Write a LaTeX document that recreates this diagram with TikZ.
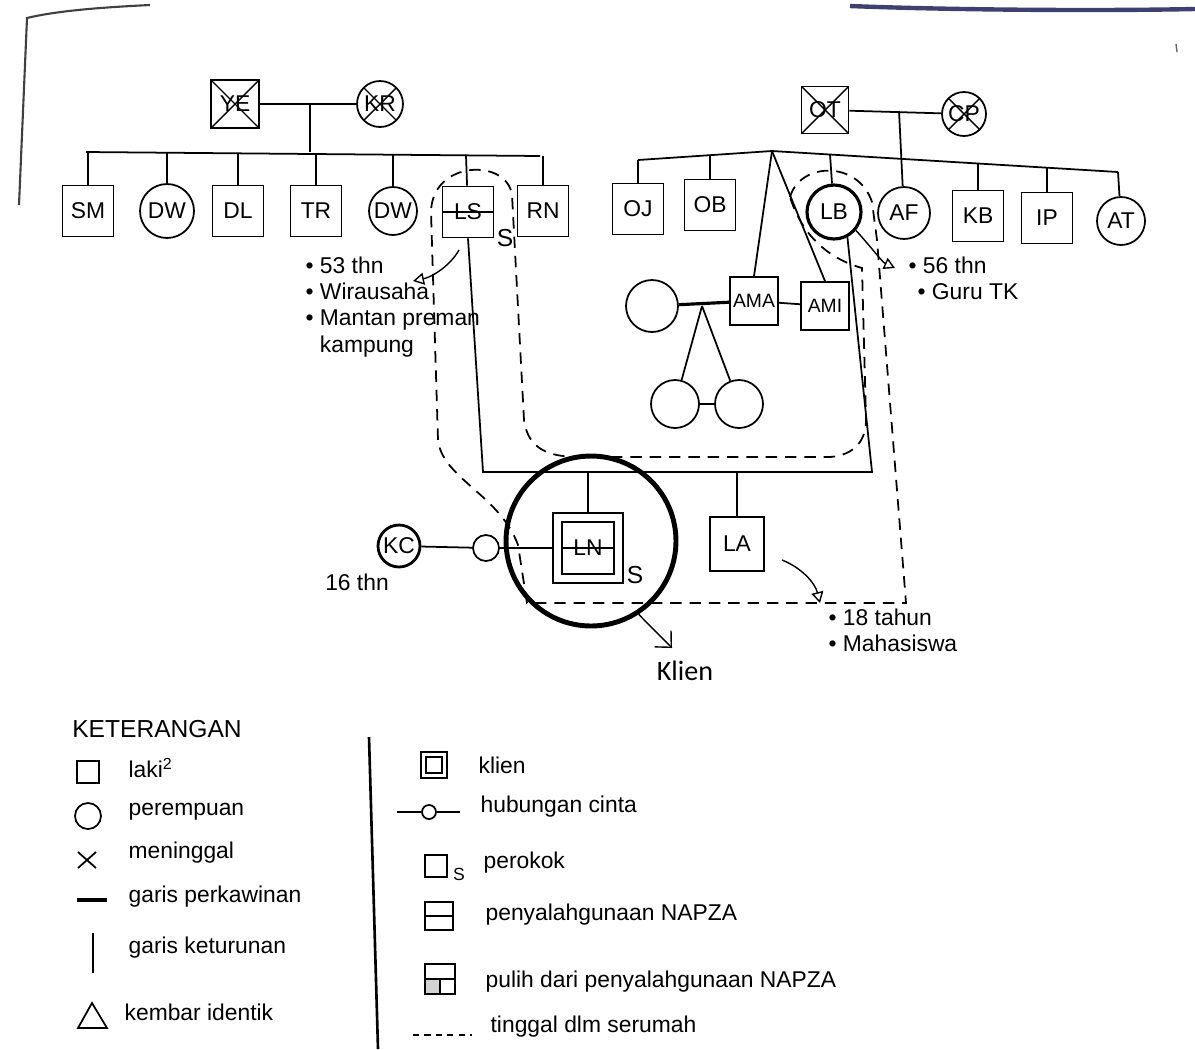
\documentclass[tikz,border=0pt]{standalone}
\usepackage{fontspec}
\setmainfont{Liberation Sans}
\newfontfamily\klienfont{Carlito}
\usetikzlibrary{arrows.meta, positioning}
\definecolor{scanbiru}{RGB}{62,64,112}

\begin{document}
\begin{tikzpicture}[x=0.02cm, y=-0.02cm, line width=1pt,
    every node/.style={font=\fontsize{13}{15}\selectfont},
    pria/.style={draw, rectangle, minimum size=1.02cm, inner sep=0pt},
    wanita/.style={draw, circle, minimum size=1.04cm, inner sep=0pt},
    meninggal/.style={path picture={\draw[line width=0.8pt]
        (path picture bounding box.north west) -- (path picture bounding box.south east)
        (path picture bounding box.north east) -- (path picture bounding box.south west);}},
    napza/.style={path picture={\draw[line width=0.8pt]
        (path picture bounding box.west) -- (path picture bounding box.east);}},
    ganda/.style={path picture={\draw[line width=0.8pt]
        ([shift={(#1,#1)}]path picture bounding box.south west) rectangle
        ([shift={(-#1,-#1)}]path picture bounding box.north east);}},
    pulih/.style={path picture={
        \fill[gray!35] (path picture bounding box.west) rectangle (path picture bounding box.south);
        \draw[line width=0.8pt] (path picture bounding box.west) -- (path picture bounding box.east);
        \draw[line width=0.8pt] (path picture bounding box.center) -- (path picture bounding box.south);}},
    serumah/.style={dash pattern=on 6.5pt off 4.5pt, line width=1pt},
    teks/.style={inner sep=1pt, align=left, font=\fontsize{13}{15}\selectfont},
    panah/.style={-{Triangle[open, length=2.2mm, width=2.4mm]}, line width=0.8pt},
  ]
  \useasboundingbox (0,0) rectangle (1195,1049);

  % bekas pindaian di tepi kertas
  \draw[line width=1.2pt, black!75] (19,205) -- (27,18) .. controls (60,10) and (110,7) .. (150,5);
  \draw[line width=2.5pt, scanbiru] (850,6) .. controls (950,10) and (1100,11) .. (1195,9);
  \draw[line width=0.8pt, black!60] (1176,44) -- (1177,52);

  % kakek-nenek dari ayah
  \node[pria, meninggal, minimum size=0.96cm] (ye) at (235,104) {YE};
  \node[wanita, meninggal, minimum size=0.92cm] (kr) at (380,104) {KR};
  \draw (ye) -- (kr);
  \coordinate (ykmid) at (310,104);
  \coordinate (bar1L) at (86,152);
  \coordinate (bar1R) at (540,156);
  \draw (ykmid) -- (ykmid |- bar1L);
  \draw (bar1L) -- (bar1R);
  \foreach \nm/\lbl/\xx/\yb in {sm/SM/88/152, dl/DL/238/153.3, tr/TR/316/154, rn/RN/543/156}{
    \node[pria] (\nm) at (\xx,211) {\lbl};
    \coordinate (\nm up) at (\xx,\yb);
    \draw (\nm) -- (\nm up);
  }
  \foreach \nm/\xx/\yb/\sz in {dwa/167/152.7/1.08, dwb/393/154.7/0.96}{
    \node[wanita, minimum size=\sz cm] (\nm) at (\xx,211) {DW};
    \coordinate (\nm up) at (\xx,\yb);
    \draw (\nm) -- (\nm up);
  }
  \node[pria, napza] (ls) at (468,212) {LS};
  \coordinate (ls up) at (466,155.4);
  \draw (ls) -- (ls up);
  \node[font=\fontsize{14}{16}\selectfont, inner sep=0pt] (lss) at (505,238) {S};

  % kakek-nenek dari ibu
  \node[pria, meninggal, minimum size=0.94cm] (ot) at (825,110) {OT};
  \node[wanita, meninggal, minimum size=0.88cm] (cp) at (964,114) {CP};
  \draw (ot) -- (cp);
  \coordinate (otcp) at (899,111);
  \coordinate (bar2L) at (638,160);
  \coordinate (apex) at (772,151);
  \coordinate (bar2R) at (1118,172);
  \draw (bar2L) -- (apex) -- (bar2R);
  \foreach \nm/\lbl/\xx/\yy/\yb in {oj/OJ/638/209/160, ob/OB/710/205/155.2, kb/KB/978/216/163.6, ip/IP/1047/218/167.8}{
    \node[pria] (\nm) at (\xx,\yy) {\lbl};
    \coordinate (\nm up) at (\xx,\yb);
    \draw (\nm) -- (\nm up);
  }
  \node[wanita, line width=1.8pt, minimum size=1.08cm] (lb) at (834,212) {LB};
  \coordinate (lb up) at (830,154.5);
  \draw (lb) -- (lb up);
  \node[wanita] (af) at (904,213) {AF};
  \draw (otcp) -- (af);
  \node[wanita, minimum size=0.96cm] (atk) at (1121,221) {AT};
  \coordinate (atk up) at (1118,172);
  \draw (atk) -- (atk up);

  % keluarga AMA
  \node[pria, minimum size=0.96cm, font=\fontsize{11}{13}\selectfont] (ama) at (754,301) {AMA};
  \node[pria, minimum size=0.96cm, font=\fontsize{11}{13}\selectfont] (ami) at (825,306) {AMI};
  \draw (apex) -- (ama.north);
  \draw (apex) -- (ami.north);
  \node[wanita] (istri) at (652,306) {};
  \draw[line width=1.8pt] (istri) -- (ama);
  \draw (ama) -- (ami);
  \coordinate (kembar) at (702,306);
  \node[wanita, minimum size=0.96cm] (tw1) at (675,404) {};
  \node[wanita, minimum size=0.96cm] (tw2) at (739,404) {};
  \draw (kembar) -- (tw1);
  \draw (kembar) -- (tw2);
  \draw (tw1) -- (tw2);

  % keluarga LS dan LB
  \coordinate (lsbawah) at (483,472);
  \coordinate (lbbawah) at (872,472);
  \draw (ls.south) -- (lsbawah) -- (lbbawah) -- (lb.-62);
  \node[pria, minimum size=1.4cm, ganda=0.18cm] (ln) at (588,548) {LN};
  \draw[line width=0.8pt] ([xshift=0.18cm]ln.west) -- ([xshift=-0.18cm]ln.east);
  \node[font=\fontsize{14}{16}\selectfont, inner sep=0pt] (lns) at (635,575) {S};
  \draw (ln.north) -- (ln.north |- lsbawah);
  \node[pria, minimum size=1.08cm] (la) at (737,544) {LA};
  \draw (la.north) -- (la.north |- lsbawah);
  \node[wanita, line width=1.6pt, minimum size=0.84cm] (kc) at (399,546) {KC};
  \node[wanita, minimum size=0.52cm] (pacar) at (486,548) {};
  \draw (kc) -- (pacar) -- (ln);

  % tinggal serumah
  \draw[serumah] (790,197) .. controls (800,162) and (858,160) .. (872,202)
    -- (877,240) -- (906,603) -- (527,603) -- (518,545)
    .. controls (500,495) and (442,478) .. (438,440) -- (431,212)
    .. controls (432,160) and (507,158) .. (512,195) -- (524,420)
    .. controls (528,450) and (550,457) .. (580,457) -- (830,457)
    .. controls (855,455) and (866,440) .. (866,420) -- (862,268)
    .. controls (840,262) and (805,245) .. (790,197);

  % keterangan tiap orang
  \node[teks, anchor=north west] (lsinfo) at (303,254) {• 53 thn\\• Wirausaha\\• Mantan preman\\\phantom{• }kampung};
  \coordinate (lsawal) at (459,250);
  \coordinate (lsujung) at (413,281);
  \draw[panah] (lsawal) .. controls (450,266) and (432,277) .. (lsujung);
  \node[teks, anchor=north west] (lbinfo) at (906,254) {• 56 thn\\\hspace{0.18cm}• Guru TK};
  \coordinate (lbujung) at (895,268);
  \draw[panah] (lb.-40) .. controls (872,248) and (882,262) .. (lbujung);
  \node[teks, anchor=north west] (lainfo) at (826,606) {• 18 tahun\\• Mahasiswa};
  \coordinate (laawal) at (782,560);
  \coordinate (laujung) at (820,603);
  \draw[panah] (laawal) .. controls (802,568) and (815,583) .. (laujung);
  \node[teks] (kcumur) at (357,582) {16 thn};

  % penanda klien
  \node[draw, circle, line width=2.8pt, minimum size=3.4cm] (klienring) at (591,541) {};
  \node[font=\klienfont\fontsize{16}{18}\selectfont] (klientxt) at (685,671) {Klien};
  \coordinate (klienujung) at (672,648);
  \draw[-{Straight Barb[length=2.4mm, width=4.6mm]}, line width=0.8pt] (klienring.-57) -- (klienujung);

  % KETERANGAN
  \node[font=\fontsize{14}{16}\selectfont] (ket) at (157,729) {KETERANGAN};
  \node[pria, minimum size=0.44cm] (lgpria) at (88,772) {};
  \node[wanita, minimum size=0.52cm] (lgwanita) at (88,816) {};
  \draw (78,852) -- (96,868) (96,852) -- (78,868);
  \draw[line width=1.8pt] (77,900) -- (107,900);
  \draw (93,933) -- (93,973);
  \draw (78,1028) -- (92,1003) -- (107,1028) -- cycle;
  \node[teks, anchor=west] (lg1) at (126,768) {laki\textsuperscript{2}};
  \node[teks, anchor=west] (lg2) at (126,812) {perempuan};
  \node[teks, anchor=west] (lg3) at (126,853) {meninggal};
  \node[teks, anchor=west] (lg4) at (126,897) {garis perkawinan};
  \node[teks, anchor=west] (lg5) at (126,948) {garis keturunan};
  \node[teks, anchor=west] (lg6) at (122,1012) {kembar identik};
  \draw[line width=1.5pt] (369,737) -- (378,1049);

  \node[pria, minimum size=0.52cm, ganda=0.1cm] (lgklien) at (434,765) {};
  \node[teks, anchor=west] (lg7) at (476,765) {klien};
  \node[wanita, minimum size=0.28cm, fill=white] (lgcinta) at (429,812) {};
  \draw (397,812) -- (lgcinta) -- (460,812);
  \node[teks, anchor=west] (lg8) at (478,807) {hubungan cinta};
  \node[pria, minimum size=0.44cm] (lgrokok) at (436,866) {};
  \node[font=\fontsize{10}{12}\selectfont, inner sep=0pt] (lgrokoks) at (459,874) {S};
  \node[teks, anchor=west] (lg9) at (481,863) {perokok};
  \node[pria, minimum size=0.56cm, napza] (lgnapza) at (439,916) {};
  \node[teks, anchor=west] (lg10) at (483,915) {penyalahgunaan NAPZA};
  \node[pria, minimum size=0.6cm, pulih] (lgpulih) at (440,979) {};
  \node[teks, anchor=west] (lg11) at (483,982) {pulih dari penyalahgunaan NAPZA};
  \draw[dash pattern=on 3.5pt off 3pt, line width=0.8pt] (413,1035) -- (472,1035);
  \node[teks, anchor=west] (lg12) at (488,1027) {tinggal dlm serumah};
\end{tikzpicture}
\end{document}
